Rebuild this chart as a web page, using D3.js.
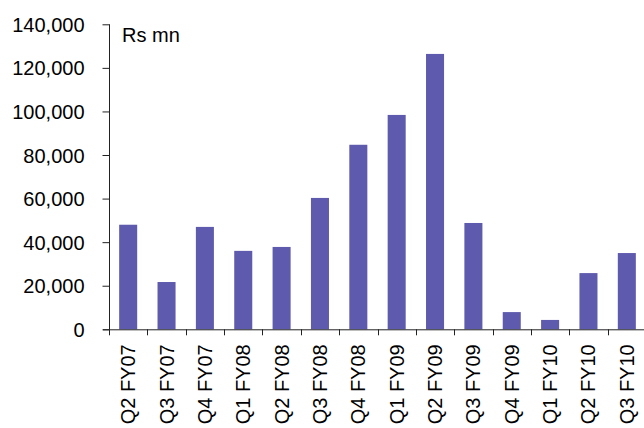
<!DOCTYPE html>
<html>
<head>
<meta charset="utf-8">
<script src="https://cdn.jsdelivr.net/npm/d3@7"></script>
<style>
  html, body { margin: 0; padding: 0; background: #fff; }
  svg { display: block; }
  text { font-family: "Liberation Sans", Arial, sans-serif; fill: #000; }
</style>
</head>
<body>
<svg id="chart" width="644" height="428"></svg>
<script>
// Quarterly values, Rs mn
const quarters = ["Q2 FY07", "Q3 FY07", "Q4 FY07", "Q1 FY08", "Q2 FY08", "Q3 FY08", "Q4 FY08",
                  "Q1 FY09", "Q2 FY09", "Q3 FY09", "Q4 FY09", "Q1 FY10", "Q2 FY10", "Q3 FY10"];
const values = [48000, 21700, 47000, 36000, 37800, 60300, 84700,
                98400, 126400, 48800, 7900, 4300, 25800, 35000];
const yTicks = [0, 20000, 40000, 60000, 80000, 100000, 120000, 140000];
const unitLabel = "Rs mn";

const svg = d3.select("#chart");
const plotLeft = 109, plotRight = 646, plotTop = 24.3, plotBottom = 329.3;

const x = d3.scaleBand()
  .domain(quarters)
  .range([plotLeft, plotRight])
  .paddingInner(0.53)
  .paddingOuter(0.265);

const y = d3.scaleLinear()
  .domain([0, 140000])
  .range([plotBottom, plotTop]);

const fmt = d3.format(",");

// bars
svg.append("g")
  .selectAll("rect")
  .data(values)
  .join("rect")
  .attr("x", (d, i) => x(quarters[i]))
  .attr("y", d => y(d))
  .attr("width", x.bandwidth())
  .attr("height", d => y(0) - y(d))
  .attr("fill", "#5e5aad");

// y axis
const yAxis = svg.append("g")
  .attr("transform", `translate(${plotLeft + 0.5},0)`)
  .call(d3.axisLeft(y).tickValues(yTicks).tickFormat(fmt).tickSize(7).tickPadding(18));
yAxis.select(".domain").attr("stroke", "#222").attr("d", `M0,${plotTop}V${plotBottom}`);
yAxis.selectAll(".tick line").attr("stroke", "#222");
yAxis.selectAll(".tick text")
  .attr("font-size", 20)
  .attr("dy", "0.35em")
  .attr("fill", "#000");

// x axis: ticks at category boundaries
const step = x.step();
const boundaries = d3.range(quarters.length + 1).map(i => plotLeft + i * step);
const xAxis = svg.append("g");
xAxis.append("line")
  .attr("x1", plotLeft - 6).attr("x2", plotRight)
  .attr("y1", plotBottom + 0.5).attr("y2", plotBottom + 0.5)
  .attr("stroke", "#222");
xAxis.selectAll("line.tk")
  .data(boundaries)
  .join("line")
  .attr("class", "tk")
  .attr("x1", d => Math.round(d) + 0.5).attr("x2", d => Math.round(d) + 0.5)
  .attr("y1", plotBottom).attr("y2", plotBottom + 6)
  .attr("stroke", "#222");

// rotated category labels
xAxis.selectAll("text")
  .data(quarters)
  .join("text")
  .attr("transform", d => `translate(${x(d) + x.bandwidth() / 2 + 7},${plotBottom + 15}) rotate(-90)`)
  .attr("text-anchor", "end")
  .attr("font-size", 20)
  .text(d => d);

// unit label
svg.append("text")
  .attr("x", 122)
  .attr("y", 42)
  .attr("font-size", 20)
  .text(unitLabel);
</script>
</body>
</html>
